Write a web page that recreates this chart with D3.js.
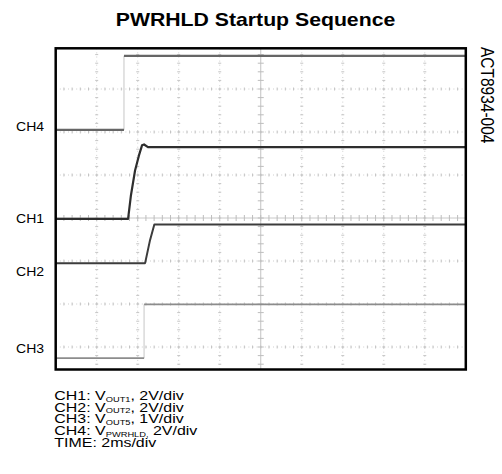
<!DOCTYPE html>
<html>
<head>
<meta charset="utf-8">
<script src="https://cdn.jsdelivr.net/npm/d3@7"></script>
<style>
  body { margin: 0; background: #fff; }
  svg { display: block; font-family: Arial, "Liberation Sans", sans-serif; }
</style>
</head>
<body>
<svg id="chart" width="502" height="474"></svg>
<script>
// scope settings
const channels = ["CH1", "CH2", "CH3", "CH4"];
const voltsPerDiv = [2, 2, 1, 2];
const groundDiv = [-0.02, -1.05, -3.26, 2.05];
const signalSub = ["OUT1", "OUT2", "OUT5", "PWRHLD,"];
const timePerDiv = 2; // ms

// traces, time in ms / level in V
const ch1Time = [0, 3.53, 3.67, 3.87, 4.06, 4.21, 4.31, 4.5, 20];
const ch1Volt = [0, 0, 1.1, 2.25, 2.95, 3.42, 3.46, 3.34, 3.34];
const ch2Time = [0, 4.36, 4.6, 4.81, 20];
const ch2Volt = [0, 0, 1.07, 1.8, 1.8];
const ch3Time = [0, 4.31, 4.31, 20];
const ch3Volt = [0, 0, 1.25, 1.25];
const ch4Time = [0, 3.33, 3.33, 20];
const ch4Volt = [0, 0, 3.44, 3.44];

const traces = [
  { t: ch1Time, v: ch1Volt, color: "#2e2e2e", width: 2.2 },
  { t: ch2Time, v: ch2Volt, color: "#3c3c3c", width: 2 },
  { t: ch3Time, v: ch3Volt, color: "#8c8c8c", width: 1.8 },
  { t: ch4Time, v: ch4Volt, color: "#666", width: 2.4 }
];

// layout
const boxL = 55.7, boxR = 465.8, boxT = 48.3, boxB = 369.5;
const labelY = [223, 276, 353, 130.5];

const svg = d3.select("#chart");

const x = d3.scaleLinear().domain([0, 10 * timePerDiv]).range([boxL, boxR]);
const y = d3.scaleLinear().domain([-4, 4]).range([390, 46]);

svg.append("clipPath").attr("id", "screen")
  .append("rect")
  .attr("x", boxL).attr("y", boxT)
  .attr("width", boxR - boxL).attr("height", boxB - boxT);

const screen = svg.append("g").attr("clip-path", "url(#screen)");

// dotted graticule
const vLines = d3.range(1, 10).filter(d => d !== 5).map(d => d * timePerDiv);
const hLines = d3.range(-3, 4).filter(d => d !== 0);

screen.selectAll(".gv").data(vLines).enter().append("line")
  .attr("x1", d => x(d)).attr("x2", d => x(d))
  .attr("y1", boxT).attr("y2", boxB)
  .attr("stroke", "#cfcfcf").attr("stroke-dasharray", "1,3.1");

screen.selectAll(".gh").data(hLines).enter().append("line")
  .attr("y1", d => y(d)).attr("y2", d => y(d))
  .attr("x1", boxL).attr("x2", boxR)
  .attr("stroke", "#cfcfcf").attr("stroke-dasharray", "1,3.1");

// minor ticks along the dotted lines
const minorT = d3.range(0, 10 * timePerDiv, timePerDiv / 5);
const minorD = d3.range(-4, 4, 0.2);
hLines.forEach(d => {
  screen.selectAll(null).data(minorT).enter().append("line")
    .attr("x1", t => x(t)).attr("x2", t => x(t))
    .attr("y1", y(d) - 1.5).attr("y2", y(d) + 1.5)
    .attr("stroke", "#c4c4c4");
});
vLines.forEach(t => {
  screen.selectAll(null).data(minorD).enter().append("line")
    .attr("y1", d => y(d)).attr("y2", d => y(d))
    .attr("x1", x(t) - 1.5).attr("x2", x(t) + 1.5)
    .attr("stroke", "#c4c4c4");
});

// centre axes
screen.append("line")
  .attr("x1", x(5 * timePerDiv)).attr("x2", x(5 * timePerDiv))
  .attr("y1", boxT).attr("y2", boxB)
  .attr("stroke", "#c2c2c2");
screen.append("line")
  .attr("y1", y(0)).attr("y2", y(0))
  .attr("x1", boxL).attr("x2", boxR)
  .attr("stroke", "#c8c8c8");
screen.selectAll(".tc").data(minorD).enter().append("line")
  .attr("y1", d => y(d)).attr("y2", d => y(d))
  .attr("x1", x(5 * timePerDiv) - 3).attr("x2", x(5 * timePerDiv) + 3)
  .attr("stroke", "#bdbdbd");
screen.selectAll(".td").data(minorT).enter().append("line")
  .attr("x1", t => x(t)).attr("x2", t => x(t))
  .attr("y1", y(0) - 3).attr("y2", y(0) + 3)
  .attr("stroke", "#bdbdbd");

// traces: fast edges come out faint on the scope
const line = d3.line().x(p => x(p.t)).y(p => p.y);

traces.forEach((tr, i) => {
  const pts = tr.t.map((t, k) => ({ t: t, y: y(groundDiv[i] + tr.v[k] / voltsPerDiv[i]) }));
  let runs = [[pts[0]]];
  for (let k = 1; k < pts.length; k++) {
    if (pts[k].t === pts[k - 1].t) {
      screen.append("line")
        .attr("x1", x(pts[k].t)).attr("x2", x(pts[k].t))
        .attr("y1", pts[k - 1].y).attr("y2", pts[k].y)
        .attr("stroke", "#c6c6c6").attr("stroke-width", 1);
      runs.push([pts[k]]);
    } else {
      runs[runs.length - 1].push(pts[k]);
    }
  }
  runs.forEach(r => {
    screen.append("path")
      .attr("d", line(r))
      .attr("fill", "none")
      .attr("stroke", tr.color)
      .attr("stroke-width", tr.width)
      .attr("stroke-linejoin", "round");
  });
});

// frame
svg.append("rect")
  .attr("x", boxL).attr("y", boxT)
  .attr("width", boxR - boxL).attr("height", boxB - boxT)
  .attr("fill", "none").attr("stroke", "#000").attr("stroke-width", 2.5);

// title
svg.append("text")
  .attr("transform", "translate(255.5,26) scale(1.18,1)")
  .attr("text-anchor", "middle")
  .attr("font-size", 18).attr("font-weight", "bold")
  .text("PWRHLD Startup Sequence");

// figure id
svg.append("text")
  .attr("transform", "translate(480.7,47) scale(1.2,1) rotate(90)")
  .attr("font-size", 15.5)
  .text("ACT8934-004");

// channel markers
channels.forEach((c, i) => {
  svg.append("text")
    .attr("transform", `translate(16,${labelY[i]}) scale(1.17,1)`)
    .attr("font-size", 12)
    .text(c);
});

// legend
const legend = svg.append("g");
channels.forEach((c, i) => {
  const tx = legend.append("text")
    .attr("transform", `translate(54.3,${400 + i * 11.67}) scale(1.33,1)`)
    .attr("font-size", 12);
  tx.append("tspan").text(c + ": V");
  tx.append("tspan").attr("font-size", 7).attr("dy", 1.6).text(signalSub[i]);
  const sep = signalSub[i].endsWith(",") ? " " : ", ";
  tx.append("tspan").attr("dy", -1.6).text(sep + voltsPerDiv[i] + "V/div");
});
legend.append("text")
  .attr("transform", `translate(54.3,${400 + 4 * 11.67}) scale(1.33,1)`)
  .attr("font-size", 12)
  .text("TIME: " + timePerDiv + "ms/div");
</script>
</body>
</html>
